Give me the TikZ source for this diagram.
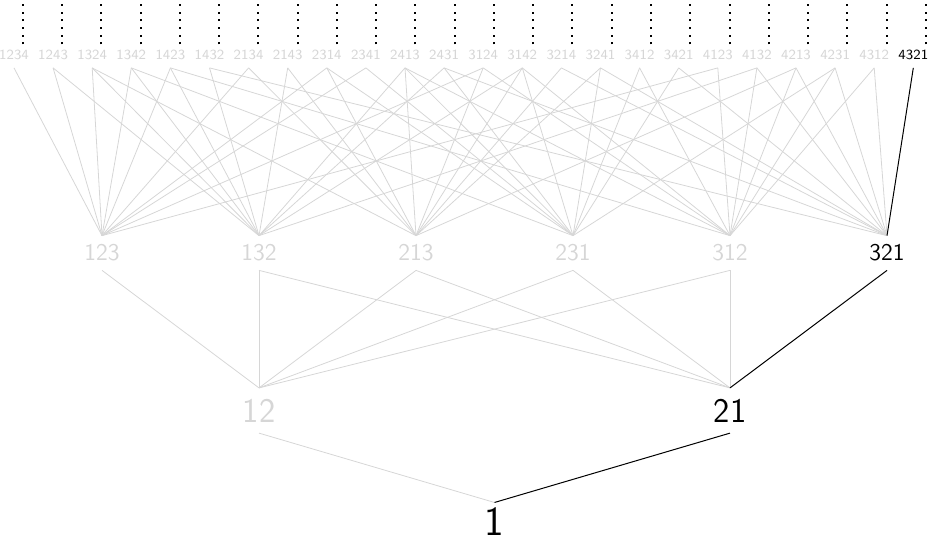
\documentclass[tikz,border=0pt]{standalone}
\usepackage{tikz}
\colorlet{faint}{black!16}

\begin{document}
\begin{tikzpicture}[x=0.5pt,y=-0.5pt,
    perm/.style={font=\sffamily,text=faint,inner sep=4.5pt,outer sep=0pt},
    seen/.style={text=black},
    link/.style={faint,line width=0.4pt},
    hit/.style={black,line width=0.5pt},
    more/.style={line width=1pt,dash pattern=on 1pt off 2.85pt}]
  \useasboundingbox (0,0) rectangle (945,542);
  % dots above the top row
  \foreach \i in {0,...,23}
    \draw[more] (22.7+39.27*\i,44.3) -- ++(0,-40.5);
  % length 4
  \foreach \p [count=\i from 0] in {1234,1243,1324,1342,1423,1432,2134,2143,
      2314,2341,2413,2431,3124,3142,3214,3241,3412,3421,4123,4132,4213,4231,4312}
    \node[perm,font=\sffamily\scriptsize,inner sep=4pt] (p\p) at (14+39.1*\i,55) {\p};
  \node[perm,seen,font=\sffamily\scriptsize,inner sep=4pt] (p4321) at (913.3,55) {4321};
  % length 3
  \foreach \p [count=\i from 0] in {123,132,213,231,312}
    \node[perm,font=\sffamily\large] (p\p) at (102+157*\i,253) {\p};
  \node[perm,seen,font=\sffamily\large] (p321) at (887,253) {321};
  % length 2 and 1
  \node[perm,font=\sffamily\LARGE,inner sep=5.5pt] (p12) at (259,410.5) {12};
  \node[perm,seen,font=\sffamily\LARGE,inner sep=5.5pt] (p21) at (730,410.5) {21};
  \node[perm,seen,font=\sffamily\huge,inner sep=2.8pt] (p1) at (494.5,522) {1};

  % covering relations
  \foreach \up/\downs in {1234/{123},1243/{123,132},1324/{123,132,213},
      1342/{123,132,231},1423/{123,132,312},1432/{132,321},2134/{123,213},
      2143/{132,213},2314/{123,213,231},2341/{123,231},2413/{132,213,231,312},
      2431/{132,231,321},3124/{123,213,312},3142/{132,213,231,312},
      3214/{213,321},3241/{213,231,321},3412/{231,312},3421/{231,321},
      4123/{123,312},4132/{132,312,321},4213/{213,312,321},
      4231/{231,312,321},4312/{312,321}}
    \foreach \dn in \downs
      \draw[link] (p\up.south) -- (p\dn.north);
  \foreach \up/\dn in {123/12,132/12,132/21,213/12,213/21,231/12,231/21,
      312/12,312/21,12/1}
    \draw[link] (p\up.south) -- (p\dn.north);
  \draw[hit] (p4321.south) -- (p321.north);
  \draw[hit] (p321.south) -- (p21.north);
  \draw[hit] (p21.south) -- (p1.north);
\end{tikzpicture}
\end{document}
